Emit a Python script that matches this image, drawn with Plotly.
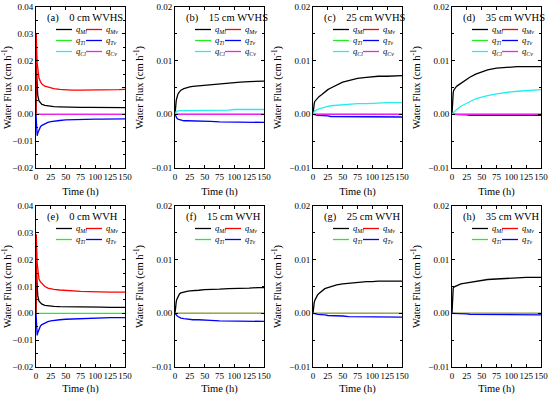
import plotly.graph_objects as go

# ---------------- data ----------------
T = [0, 0.5, 1, 2, 3, 5, 7.5, 10, 15, 20, 25, 30, 40, 50, 60, 75, 90, 100, 110, 125, 140, 150]
q_zero = [0, 0, 0, 0, 0, 0, 0, 0, 0, 0, 0, 0, 0, 0, 0, 0, 0, 0, 0, 0, 0, 0]

# (a) 0 cm WVHS
a_qMl = [0, 0.018, 0.016, 0.011, 0.0070, 0.0050, 0.0041, 0.0037, 0.0033, 0.0031, 0.0030, 0.0029, 0.0028, 0.0027, 0.0027, 0.0026, 0.0026, 0.0026, 0.0025, 0.0025, 0.0025, 0.0025]
a_qMv = [0, 0.0300, 0.0250, 0.0190, 0.0160, 0.0135, 0.0122, 0.0113, 0.0105, 0.0101, 0.0098, 0.0096, 0.0093, 0.0091, 0.0090, 0.0090, 0.0090, 0.0090, 0.0091, 0.0091, 0.0092, 0.0093]
a_qTv = [0, -0.0040, -0.0075, -0.0080, -0.0070, -0.0055, -0.0046, -0.0041, -0.0034, -0.0030, -0.0027, -0.0025, -0.0023, -0.0021, -0.0020, -0.0019, -0.0019, -0.0018, -0.0018, -0.0018, -0.0017, -0.0017]
# (b) 15 cm WVHS
b_qMl = [0, 0.0010, 0.0017, 0.0025, 0.0030, 0.0038, 0.0042, 0.0045, 0.0048, 0.0050, 0.0051, 0.0052, 0.0053, 0.0054, 0.0055, 0.0057, 0.0059, 0.0060, 0.0060, 0.0061, 0.0062, 0.0062]
b_qTv = [0, -0.0002, -0.0003, -0.0005, -0.0007, -0.0009, -0.0010, -0.0011, -0.0012, -0.0012, -0.0012, -0.0013, -0.0013, -0.0013, -0.0013, -0.0014, -0.0014, -0.0014, -0.0014, -0.0015, -0.0015, -0.0015]
b_qCl = [0, 0.0002, 0.0003, 0.0005, 0.0006, 0.0007, 0.0007, 0.0007, 0.0007, 0.0007, 0.0007, 0.0007, 0.0008, 0.0008, 0.0008, 0.0008, 0.0008, 0.0009, 0.0009, 0.0009, 0.0009, 0.0009]
# (c) 25 cm WVHS
c_qMl = [0, 0.0010, 0.0015, 0.0020, 0.0024, 0.0027, 0.0030, 0.0033, 0.0037, 0.0042, 0.0046, 0.0049, 0.0055, 0.0060, 0.0063, 0.0067, 0.0069, 0.0070, 0.0071, 0.0071, 0.0072, 0.0072]
c_qTv = [0, 0, -0.0001, -0.0001, -0.0001, -0.0001, -0.0002, -0.0002, -0.0003, -0.0003, -0.0003, -0.0004, -0.0004, -0.0004, -0.0004, -0.0005, -0.0005, -0.0005, -0.0005, -0.0005, -0.0005, -0.0005]
c_qCl = [0, 0.0002, 0.0003, 0.0005, 0.0006, 0.0008, 0.0009, 0.0010, 0.0012, 0.0014, 0.0015, 0.0016, 0.0017, 0.0018, 0.0019, 0.0020, 0.0020, 0.0021, 0.0021, 0.0022, 0.0022, 0.0022]
# (d) 35 cm WVHS
d_qMl = [0, 0.0020, 0.0030, 0.0040, 0.0045, 0.0049, 0.0052, 0.0054, 0.0058, 0.0061, 0.0065, 0.0069, 0.0075, 0.0079, 0.0083, 0.0086, 0.0088, 0.0088, 0.0089, 0.0089, 0.0089, 0.0089]
d_qTv = [0, 0, 0, 0, 0, -0.0001, -0.0001, -0.0001, -0.0001, -0.0001, -0.0001, -0.0002, -0.0002, -0.0002, -0.0002, -0.0002, -0.0002, -0.0002, -0.0002, -0.0002, -0.0002, -0.0002]
d_qCl = [0, 0.0001, 0.0002, 0.0003, 0.0004, 0.0006, 0.0009, 0.0011, 0.0015, 0.0018, 0.0021, 0.0024, 0.0029, 0.0032, 0.0035, 0.0038, 0.0041, 0.0042, 0.0043, 0.0044, 0.0045, 0.0046]
# (e) 0 cm WVH
e_qMl = [0, 0.018, 0.015, 0.010, 0.0065, 0.0045, 0.0038, 0.0034, 0.0030, 0.0028, 0.0027, 0.0026, 0.0025, 0.0025, 0.0024, 0.0024, 0.0023, 0.0023, 0.0023, 0.0022, 0.0022, 0.0022]
e_qMv = [0, 0.0295, 0.0250, 0.0185, 0.0155, 0.0128, 0.0117, 0.0110, 0.0100, 0.0094, 0.0091, 0.0089, 0.0087, 0.0085, 0.0083, 0.0082, 0.0081, 0.0080, 0.0080, 0.0079, 0.0079, 0.0079]
e_qTv = [0, -0.0040, -0.0078, -0.0082, -0.0072, -0.0057, -0.0047, -0.0042, -0.0035, -0.0031, -0.0028, -0.0026, -0.0024, -0.0022, -0.0021, -0.0019, -0.0018, -0.0017, -0.0017, -0.0016, -0.0016, -0.0016]
# (f) 15 cm WVH
f_qMl = [0, 0.0008, 0.0014, 0.0021, 0.0026, 0.0032, 0.0036, 0.0038, 0.0040, 0.0041, 0.0042, 0.0042, 0.0043, 0.0044, 0.0044, 0.0045, 0.0046, 0.0046, 0.0047, 0.0047, 0.0048, 0.0048]
f_qTv = [0, -0.0001, -0.0002, -0.0003, -0.0004, -0.0006, -0.0008, -0.0009, -0.0010, -0.0011, -0.0011, -0.0012, -0.0012, -0.0012, -0.0013, -0.0014, -0.0014, -0.0014, -0.0015, -0.0015, -0.0015, -0.0015]
# (g) 25 cm WVH
g_qMl = [0, 0.0008, 0.0014, 0.0020, 0.0024, 0.0029, 0.0034, 0.0037, 0.0042, 0.0046, 0.0048, 0.0050, 0.0053, 0.0055, 0.0056, 0.0058, 0.0059, 0.0059, 0.0060, 0.0060, 0.0060, 0.0060]
g_qTv = [0, 0, 0, -0.0001, -0.0001, -0.0001, -0.0002, -0.0002, -0.0003, -0.0003, -0.0004, -0.0004, -0.0005, -0.0005, -0.0006, -0.0006, -0.0006, -0.0007, -0.0007, -0.0007, -0.0007, -0.0007]
# (h) 35 cm WVH
h_qMl = [0, 0.0025, 0.0040, 0.0047, 0.0049, 0.0050, 0.0052, 0.0053, 0.0055, 0.0056, 0.0057, 0.0058, 0.0060, 0.0061, 0.0063, 0.0064, 0.0065, 0.0066, 0.0066, 0.0067, 0.0067, 0.0067]
h_qTv = [0, 0, 0, 0, 0, 0, -0.0001, -0.0001, -0.0001, -0.0001, -0.0001, -0.0002, -0.0002, -0.0002, -0.0002, -0.0002, -0.0003, -0.0003, -0.0003, -0.0003, -0.0003, -0.0003]

series_names = ["qMl", "qMv", "qTl", "qTv", "qCl", "qCv"]
series_labels = ["<i>q</i><sub><i>Ml</i></sub>", "<i>q</i><sub><i>Mv</i></sub>",
                 "<i>q</i><sub><i>Tl</i></sub>", "<i>q</i><sub><i>Tv</i></sub>",
                 "<i>q</i><sub><i>Cl</i></sub>", "<i>q</i><sub><i>Cv</i></sub>"]
series_colors = ["#000000", "#ff0000", "#22ee22", "#0000ff", "#22eeee", "#ee22ee"]

panel_letters = ["(a)", "(b)", "(c)", "(d)", "(e)", "(f)", "(g)", "(h)"]
panel_titles = ["0 cm WVHS", "15 cm WVHS", "25 cm WVHS", "35 cm WVHS",
                "0 cm WVH", "15 cm WVH", "25 cm WVH", "35 cm WVH"]
panel_series = [
    [a_qMl, a_qMv, q_zero, a_qTv, q_zero, q_zero],
    [b_qMl, q_zero, q_zero, b_qTv, b_qCl, q_zero],
    [c_qMl, q_zero, q_zero, c_qTv, c_qCl, q_zero],
    [d_qMl, q_zero, q_zero, d_qTv, d_qCl, q_zero],
    [e_qMl, e_qMv, q_zero, e_qTv],
    [f_qMl, q_zero, q_zero, f_qTv],
    [g_qMl, q_zero, q_zero, g_qTv],
    [h_qMl, q_zero, q_zero, h_qTv],
]
y_ranges = [(-0.02, 0.04), (-0.01, 0.02), (-0.01, 0.02), (-0.01, 0.02),
            (-0.02, 0.04), (-0.01, 0.02), (-0.01, 0.02), (-0.01, 0.02)]
x_ticks = [0, 25, 50, 75, 100, 125, 150]

# ---------------- layout geometry (pixels) ----------------
W, H = 550, 395
col_left = [36, 175, 313, 452]
pw = 89
row_tb = [(7, 168), (206, 367)]

FONT = "Liberation Serif, serif"
fig = go.Figure()
shapes = []
annotations = []
layout = {}

for p in range(8):
    r, c = divmod(p, 4)
    n = p + 1
    xa = "x" if n == 1 else f"x{n}"
    ya = "y" if n == 1 else f"y{n}"
    xkey = "xaxis" if n == 1 else f"xaxis{n}"
    ykey = "yaxis" if n == 1 else f"yaxis{n}"
    top, bot = row_tb[r]
    ph = bot - top
    x0 = col_left[c]
    layout[xkey] = dict(
        domain=[x0 / W, (x0 + pw) / W], anchor=ya, range=[0, 150], automargin=False,
        tickvals=x_ticks, tickangle=0, ticks="inside", ticklen=3, tickwidth=1, tickcolor="black",
        showline=True, linecolor="black", linewidth=1, mirror="allticks",
        showgrid=False, zeroline=False,
        tickfont=dict(family=FONT, size=9, color="black"),
        title=dict(text="Time (h)", font=dict(family=FONT, size=10.5, color="black"), standoff=6),
    )
    ylo, yhi = y_ranges[p]
    layout[ykey] = dict(
        domain=[(H - bot) / H, (H - top) / H], anchor=xa, range=[ylo, yhi], automargin=False,
        dtick=0.01, tick0=0, tickformat=".2f", ticks="inside", ticklen=3, tickwidth=1, tickcolor="black",
        minor=dict(dtick=0.005, ticks="inside", ticklen=2, tickcolor="black"),
        showline=True, linecolor="black", linewidth=1, mirror="allticks",
        showgrid=False, zeroline=False,
        tickfont=dict(family=FONT, size=9, color="black"),
        title=dict(text="Water Flux (cm h<sup>-1</sup>)", font=dict(family=FONT, size=10.5, color="black"), standoff=5),
    )
    for k, ys in enumerate(panel_series[p]):
        fig.add_trace(go.Scatter(
            x=T, y=ys, mode="lines", name=series_names[k],
            line=dict(color=series_colors[k], width=1.3),
            xaxis=xa, yaxis=ya, showlegend=False,
        ))
    xd = f"{xa} domain"
    yd = f"{ya} domain"
    # panel label
    annotations.append(dict(
        text=panel_letters[p] + "&nbsp;&nbsp;&nbsp;&nbsp;" + panel_titles[p],
        xref=xd, yref=yd, x=9 / pw, y=1 - 11 / ph, xanchor="left", yanchor="middle",
        showarrow=False, font=dict(family=FONT, size=10.5, color="black"),
    ))
    # legend (two columns)
    nser = len(panel_series[p])
    for k in range(nser):
        row_i, col_i = divmod(k, 2)
        ly = 1 - (22.5 + 11 * row_i) / ph
        lx0 = (20 + 30 * col_i) / pw
        lx1 = (36 + 30 * col_i) / pw
        shapes.append(dict(type="line", xref=xd, yref=yd, x0=lx0, x1=lx1, y0=ly, y1=ly,
                           line=dict(color=series_colors[k], width=1.3)))
        annotations.append(dict(
            text=series_labels[k], xref=xd, yref=yd, x=(38 + 30 * col_i) / pw, y=ly,
            xanchor="left", yanchor="middle", showarrow=False,
            font=dict(family=FONT, size=8.5, color="black"),
        ))

fig.update_layout(
    template="none",
    width=W, height=H, margin=dict(l=0, r=0, t=0, b=0, autoexpand=False),
    font=dict(family=FONT, size=9, color="black"),
    paper_bgcolor="white", plot_bgcolor="white",
    shapes=shapes, annotations=annotations, showlegend=False,
    **layout,
)
fig.write_html("out.html", config={"displayModeBar": False},
               post_script="document.body.style.margin='0';document.body.style.overflow='hidden';")
